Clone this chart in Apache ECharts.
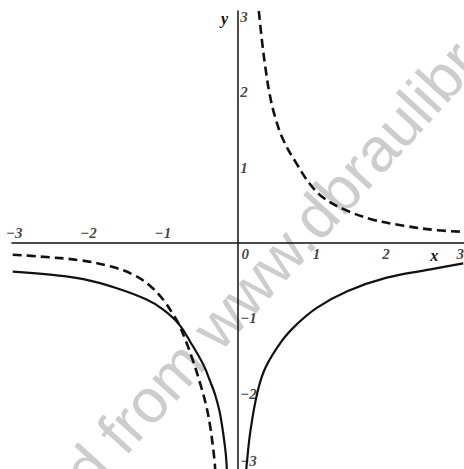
<!DOCTYPE html>
<html>
<head>
<meta charset="utf-8">
<script src="https://cdn.jsdelivr.net/npm/echarts@6/dist/echarts.min.js"></script>
<style>
  html, body { margin: 0; padding: 0; background: #fff; }
  #c { width: 464px; height: 469px; }
</style>
</head>
<body>
<div id="c"></div>
<script>
// Curve samples [x, y] for the four branches
const solidLeft = [[-3.02,-0.38],[-2.52,-0.42],[-2.07,-0.48],[-1.62,-0.60],[-1.22,-0.75],[-1.0,-0.88],[-0.79,-1.07],[-0.633,-1.31],[-0.454,-1.62],[-0.363,-1.84],[-0.296,-2.02],[-0.229,-2.28],[-0.162,-2.73],[-0.139,-3.02]];
const dashedLeft = [[-3.02,-0.155],[-2.65,-0.18],[-2.11,-0.23],[-1.71,-0.31],[-1.40,-0.42],[-1.17,-0.57],[-0.99,-0.76],[-0.88,-0.92],[-0.79,-1.07],[-0.70,-1.28],[-0.60,-1.55],[-0.50,-1.86],[-0.42,-2.15],[-0.37,-2.40],[-0.33,-2.68],[-0.305,-2.90],[-0.296,-3.02]];
const solidRight = [[0.12,-3.02],[0.13,-2.91],[0.175,-2.51],[0.265,-2.01],[0.377,-1.66],[0.60,-1.30],[0.80,-1.08],[1.07,-0.86],[1.48,-0.64],[2.01,-0.46],[2.60,-0.35],[3.04,-0.27]];
const dashedRight = [[0.29,3.08],[0.332,2.69],[0.377,2.34],[0.435,1.98],[0.51,1.67],[0.623,1.36],[0.80,1.05],[0.98,0.78],[1.16,0.60],[1.43,0.45],[1.79,0.32],[2.24,0.23],[2.69,0.17],[3.03,0.15]];

// Tick labels
const xTicksNeg = [-3, -2, -1];
const xTicksPos = [0, 1, 2, 3];
const yTicks = [3, 2, 1, -1, -2, -3];

const chart = echarts.init(document.getElementById('c'), null, { renderer: 'svg' });

const INK = '#111';
const FONT = 'Liberation Serif';
const fmt = v => (v < 0 ? '\u2212' + Math.abs(v) : String(v));
const textStyle = { color: INK, fontFamily: FONT, fontStyle: 'italic', fontWeight: 'bold', fontSize: 15 };

const axisLineStyle = { color: INK, width: 1.5 };
const X_MIN = -3.03, X_MAX = 3.05, Y_MIN = -3.0, Y_MAX = 3.08;

const curve = (data, dashed) => ({
  type: 'line',
  data: data,
  smooth: 0.4,
  showSymbol: false,
  silent: true,
  z: 5,
  lineStyle: { color: INK, width: dashed ? 2.6 : 2.2, type: dashed ? [9, 5] : 'solid' }
});

// Tick numbers drawn as labels sitting on the axes
const tickLabels = (points, position) => ({
  type: 'scatter',
  silent: true,
  symbolSize: 0,
  z: 10,
  data: points.map(p => Object.assign({ value: p.value }, p.label ? { label: p.label } : {})),
  label: Object.assign({ show: true, position: position, distance: 3, formatter: p => fmt(p.value[2]) }, textStyle)
});

chart.setOption({
  animation: false,
  backgroundColor: '#fff',
  grid: { left: 12, right: 0, top: 11, bottom: 0, outerBoundsMode: 'none', containLabel: false },
  xAxis: {
    type: 'value', min: X_MIN, max: X_MAX,
    splitLine: { show: false }, axisTick: { show: false }, axisLabel: { show: false },
    axisLine: { onZero: true, lineStyle: axisLineStyle }
  },
  yAxis: {
    type: 'value', min: Y_MIN, max: Y_MAX,
    splitLine: { show: false }, axisTick: { show: false }, axisLabel: { show: false },
    axisLine: { onZero: true, lineStyle: axisLineStyle }
  },
  series: [
    curve(solidLeft, false),
    curve(dashedLeft, true),
    curve(solidRight, false),
    curve(dashedRight, true),
    tickLabels(xTicksNeg.map(v => ({ value: [v, 0, v] })), 'top'),
    tickLabels(xTicksPos.map(v => ({ value: [v, 0, v], label: v === 0 ? { offset: [8, 0] } : (v === 1 ? { offset: [5, 0] } : null) })), 'bottom'),
    tickLabels(yTicks.map(v => ({ value: [0, v, v], label: v === -3 ? { offset: [0, -8] } : null })), 'right')
  ]
});

// Axis names and background stamp
const px = p => chart.convertToPixel({ xAxisIndex: 0, yAxisIndex: 0 }, p);
const yName = px([-0.17, 2.98]);
const xName = px([2.65, -0.16]);
const WM = '#cdcdcd';
const wmStyle = { fill: WM, fontFamily: 'Liberation Sans', fontSize: 62, verticalAlign: 'bottom' };

chart.setOption({
  graphic: [
    {
      type: 'group', x: 132, y: 464, rotation: 47.7 * Math.PI / 180, z: -10, silent: true,
      children: [
        { type: 'text', x: 0, y: 0, z: -10, style: Object.assign({ text: 'from www.dbraulibrary.org.in', align: 'left' }, wmStyle) },
        { type: 'text', x: -16, y: 0, z: -10, style: Object.assign({ text: 'Downloaded', align: 'right' }, wmStyle) }
      ]
    },
    { type: 'text', x: yName[0], y: yName[1], z: 20, silent: true,
      style: { text: 'y', fill: INK, fontFamily: FONT, fontStyle: 'italic', fontWeight: 'bold', fontSize: 16, align: 'center', verticalAlign: 'middle' } },
    { type: 'text', x: xName[0], y: xName[1], z: 20, silent: true,
      style: { text: 'x', fill: INK, fontFamily: FONT, fontStyle: 'italic', fontWeight: 'bold', fontSize: 16, align: 'center', verticalAlign: 'middle' } }
  ]
});
</script>
</body>
</html>
